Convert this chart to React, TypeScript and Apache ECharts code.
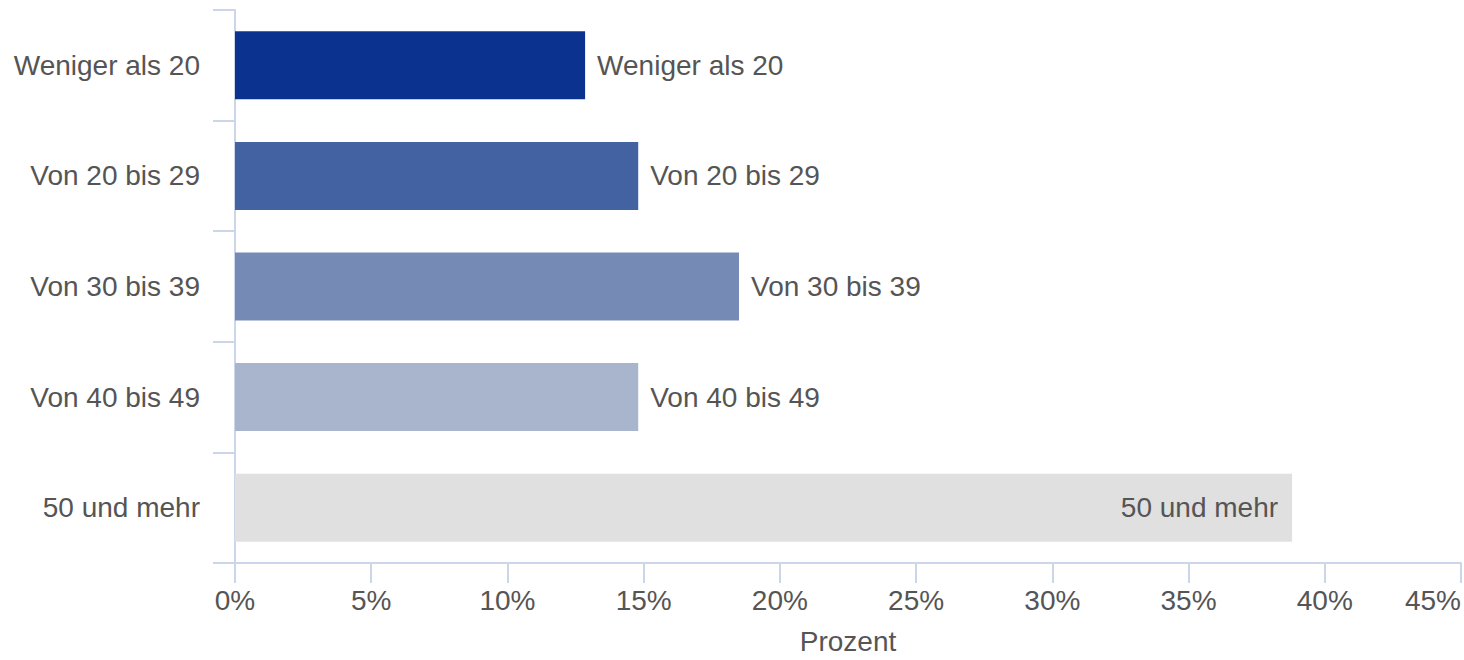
import React, { useEffect, useRef } from "react";
import * as echarts from "echarts";

const categories = ["Weniger als 20", "Von 20 bis 29", "Von 30 bis 39", "Von 40 bis 49", "50 und mehr"];
const values = [12.85, 14.8, 18.5, 14.8, 38.8];
const colors = ["#0c3290", "#4262a2", "#768ab6", "#a9b5cc", "#e0e0e0"];
const axisTitle = "Prozent";

const FONT = "'Liberation Sans', Arial, sans-serif";
const TEXT = "#555555";
const AXIS = "#ccd6eb";
const FS = 28;

export default function App() {
  const ref = useRef<HTMLDivElement>(null);
  useEffect(() => {
    if (!ref.current) return;
    const chart = echarts.init(ref.current, null, { renderer: "svg" });
    chart.setOption({
      animation: false,
      grid: { left: 235, right: 2, top: 10, bottom: 93, containLabel: false },
      xAxis: {
        type: "value",
        min: 0,
        max: 45,
        interval: 5,
        name: axisTitle,
        nameLocation: "middle",
        nameGap: 64,
        nameTextStyle: { color: TEXT, fontSize: FS, fontFamily: FONT },
        axisLine: { show: true, lineStyle: { color: AXIS, width: 2 } },
        axisTick: { show: true, length: 20, lineStyle: { color: AXIS, width: 2 } },
        splitLine: { show: false },
        axisLabel: {
          formatter: "{value}%",
          color: TEXT,
          fontSize: FS,
          fontFamily: FONT,
          margin: 23,
          alignMaxLabel: "right",
        },
      },
      yAxis: {
        type: "category",
        data: categories,
        inverse: true,
        axisLine: { show: true, lineStyle: { color: AXIS, width: 2 } },
        axisTick: { show: true, length: 22, lineStyle: { color: AXIS, width: 2 } },
        axisLabel: { color: TEXT, fontSize: FS, fontFamily: FONT, margin: 35 },
      },
      series: [
        {
          type: "bar",
          barWidth: 68,
          data: values.map((v, i) => ({
            value: v,
            itemStyle: { color: colors[i] },
            label:
              i === values.length - 1
                ? { position: "insideRight", distance: 14 }
                : { position: "right", distance: 12 },
          })),
          label: {
            show: true,
            formatter: (p: any) => p.name,
            color: TEXT,
            fontSize: FS,
            fontFamily: FONT,
          },
        },
      ],
    });
    return () => chart.dispose();
  }, []);
  return (
    <div
      ref={ref}
      style={{ position: "fixed", left: 0, top: 0, width: 1464, height: 660, background: "#fff" }}
    />
  );
}
